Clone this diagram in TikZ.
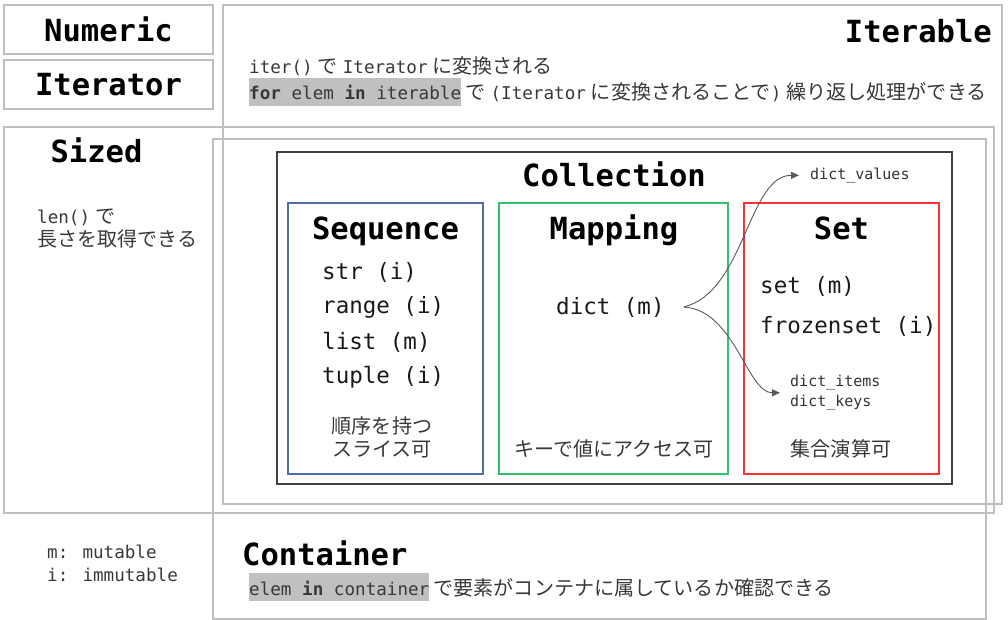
\documentclass[tikz,border=0pt]{standalone}
\usepackage{fontspec}
\setmainfont{DejaVu Sans Mono}
\newfontfamily\jp{Noto Sans CJK JP}[Scale=1.14]
\newcommand{\ja}[1]{{\jp #1}}
\newcommand{\js}{\hspace{5pt}}
\usetikzlibrary{arrows.meta,positioning,calc}
\definecolor{framegray}{HTML}{BFBFBF}
\definecolor{hlgray}{HTML}{C0C0C0}
\definecolor{seqblue}{HTML}{4F6FA8}
\definecolor{mapgreen}{HTML}{35C070}
\definecolor{setred}{HTML}{FF3030}

\begin{document}
\begin{tikzpicture}[x=1pt,y=-1pt,
frame/.style={draw=framegray,line width=1.4pt},
group/.style={line width=1.4pt},
title/.style={font=\fontsize{30.5}{36}\selectfont\bfseries,inner sep=0pt,anchor=base},
item/.style={font=\fontsize{22.5}{27}\selectfont,text=black!90,inner sep=0pt,anchor=west},
note/.style={font=\fontsize{17.6}{23.5}\selectfont,text=black!78,inner sep=0pt,anchor=base west,align=left},
small/.style={font=\fontsize{15}{20}\selectfont,text=black!80,inner sep=0pt,anchor=base west,align=left},
code/.style={note,fill=hlgray,text height=22pt,text depth=6pt},
link/.style={draw=black!65,line width=0.9pt,-{Triangle[length=8pt,width=7pt]}}]
\useasboundingbox (0,0) rectangle (1008,620);
\draw[frame] (223,5) rectangle (1002,504);
\draw[frame] (4,127) rectangle (994,513);
\draw[frame] (213,139) rectangle (986,619);
\node (numeric) [frame,title,anchor=center,minimum width=209pt,minimum height=49pt] at (108.5,29.5) {Numeric};
\node (iterator) [frame,title,anchor=center,minimum width=209pt,minimum height=49pt] at (108.5,84.5) {Iterator};
\node (iterable) [title,anchor=base east] at (992,43) {Iterable};
\node (iternote) [note] at (249,74) {iter()\js\ja{で}\js Iterator\js\ja{に変換される}};
\node (forcode) [code] at (249,100) {\textbf{for} elem \textbf{in} iterable};
\node (fornote) [note,xshift=4pt] at (forcode.base east) {\ja{で}\js(Iterator\js\ja{に変換されることで})\js\ja{繰り返し処理ができる}};
\node (sized) [title] at (96.5,163) {Sized};
\node (sizednote) [note] at (37,246.7) {len()\js\ja{で}\\\ja{長さを取得できる}};
\draw[line width=1.8pt,draw=black!75] (277,152) rectangle (952,484);
\node (collection) [title] at (614,187) {Collection};
\draw[group,draw=seqblue] (288,203) rectangle (483,474);
\node (sequence) [title] at (385.5,240) {Sequence};
\node (str) [item] at (322,272) {str (i)};
\node (range) [item] at (322,307) {range (i)};
\node (list) [item] at (322,342) {list (m)};
\node (tuple) [item] at (322,377) {tuple (i)};
\node (seqnote) [note,anchor=base,align=center] at (382,456.7) {\ja{順序を持つ}\\\ja{スライス可}};
\draw[group,draw=mapgreen] (499,203) rectangle (728,474);
\node (mapping) [title] at (614,240) {Mapping};
\node (dict) [item] at (556,307) {dict (m)};
\node (mapnote) [note,anchor=base] at (614,456.7) {\ja{キーで値にアクセス可}};
\draw[group,draw=setred] (744,203) rectangle (939,474);
\node (set) [title] at (841.5,240) {Set};
\node (setitem) [item] at (760,286.7) {set (m)};
\node (frozen) [item] at (760,326) {frozenset (i)};
\node (setnote) [note,anchor=base] at (841,456.7) {\ja{集合演算可}};
\node (values) [small] at (810,179.3) {dict\_values};
\node (views) [small] at (790,406.7) {dict\_items\\dict\_keys};
\draw[link,shorten >=11pt] ([xshift=19pt]dict.east) .. controls +(61,-15) and +(-62,0) .. (values.west);
\draw[link,shorten >=10pt] ([xshift=19pt]dict.east) .. controls +(51,3) and +(-43,0) .. (views.west);
\node (container) [title,anchor=base west] at (242,565) {Container};
\node (incode) [code] at (249,595) {elem \textbf{in} container};
\node (innote) [note,xshift=4pt] at (incode.base east) {\ja{で要素がコンテナに属しているか確認できる}};
\node (legend) [note] at (47,581.7) {m: mutable\\i: immutable};
\end{tikzpicture}
\end{document}
